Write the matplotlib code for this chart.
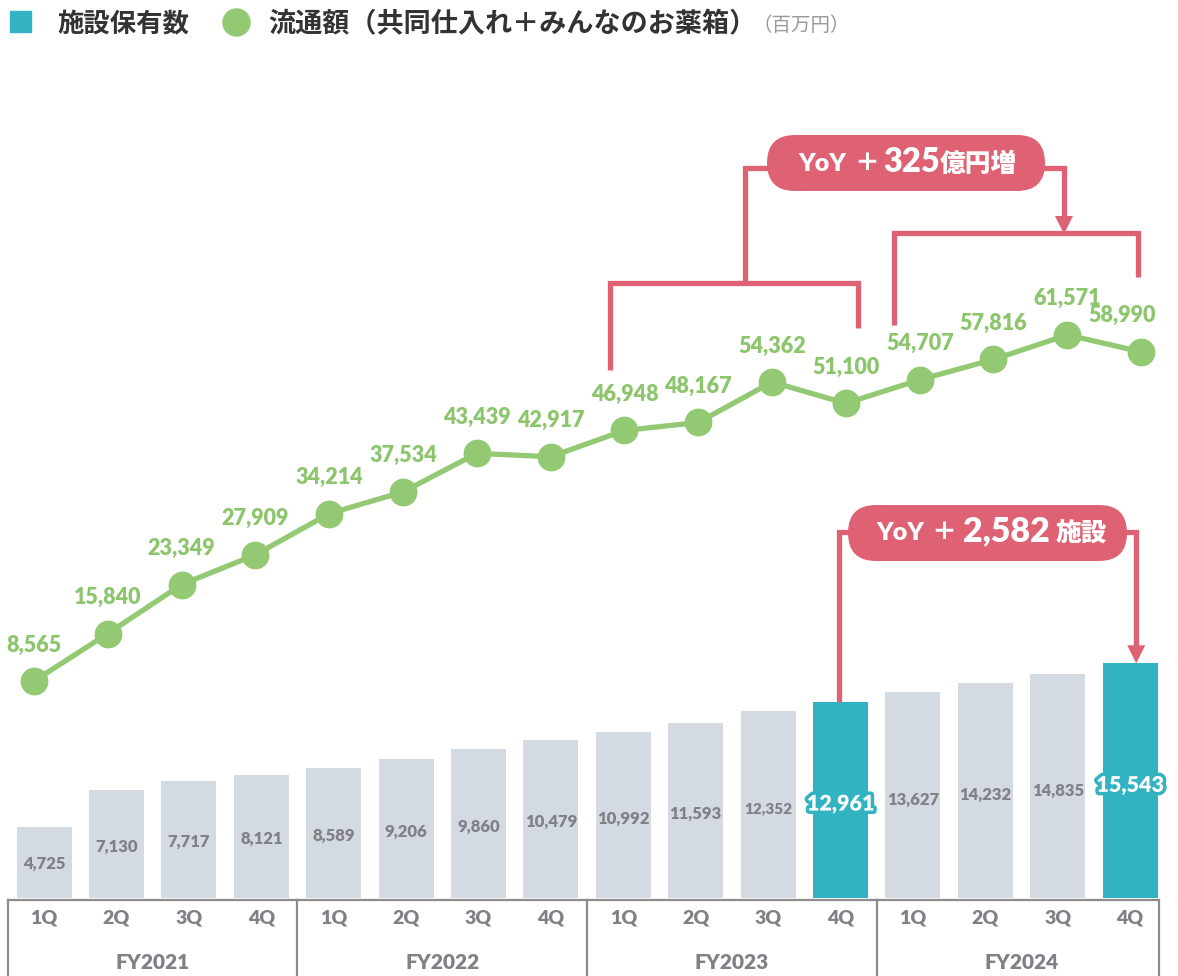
import matplotlib
matplotlib.use("Agg")
import matplotlib.pyplot as plt
import matplotlib.patheffects as pe
from matplotlib.patches import FancyBboxPatch, Rectangle, Polygon
import numpy as np

plt.rcParams['font.family'] = ['Lato', 'Noto Sans CJK JP', 'DejaVu Sans']

quarters = ['1Q', '2Q', '3Q', '4Q'] * 4
years = ['FY2021', 'FY2022', 'FY2023', 'FY2024']
facilities = [4725, 7130, 7717, 8121, 8589, 9206, 9860, 10479,
              10992, 11593, 12352, 12961, 13627, 14232, 14835, 15543]
sales = [8565, 15840, 23349, 27909, 34214, 37534, 43439, 42917,
         46948, 48167, 54362, 51100, 54707, 57816, 61571, 58990]
highlight = [11, 15]

GRAY_BAR = '#d3dae1'
TEAL = '#31b3c1'
GREEN = '#94c973'
GREEN_TXT = '#8cc56c'
PINK = '#de6273'
TXT_GRAY = '#808086'
AXIS = '#8c8c8c'
WT = 'heavy'

W, H = 1178, 976
fig = plt.figure(figsize=(W / 100, H / 100), dpi=100)
ax = fig.add_axes([0, 0, 1, 1])
ax.set_xlim(-0.608, 15.66)
ax.set_ylim(-5166, 59470)
ax.axis('off')
# the line series sits on its own, slightly wider x scale
ax2 = fig.add_axes([0, 0, 1, 1])
ax2.set_xlim(-0.461, 15.50)
ax2.set_ylim(-36600, 112864)
ax2.axis('off')
ax2.patch.set_alpha(0)

x = np.arange(len(facilities))
colors = [TEAL if i in highlight else GRAY_BAR for i in x]
ax.bar(x, facilities, width=0.76, color=colors, zorder=2)

for i, v in enumerate(facilities):
    if i in highlight:
        ax.text(i, v * 0.48, f'{v:,}', ha='center', va='center', fontsize=15.5,
                fontweight=WT, color='white', zorder=5,
                path_effects=[pe.withStroke(linewidth=5, foreground=TEAL)])
    else:
        ax.text(i, v * 0.48, f'{v:,}', ha='center', va='center',
                fontsize=11 if i == 10 else 12, fontweight=WT, color=TXT_GRAY, zorder=5)

# bottom category axis
ax.plot([-0.5, 15.4], [-150, -150], color=AXIS, lw=1.6, clip_on=False, zorder=3)
for b in [-0.5, 3.5, 7.5, 11.5, 15.4]:
    ax.plot([b, b], [-150, -5166], color=AXIS, lw=1.6, clip_on=False, zorder=3)
for i, q in enumerate(quarters):
    ax.text(i, -1325, q, ha='center', va='center', fontsize=14,
            fontweight=WT, color=TXT_GRAY)
for k, y in enumerate(years):
    ax.text(4 * k + 1.5, -4305, y, ha='center', va='center', fontsize=15,
            fontweight=WT, color=TXT_GRAY)

# line series
ax2.plot(x, sales, color=GREEN, lw=3.8, marker='o', markersize=19,
         markerfacecolor=GREEN, markeredgecolor=GREEN, zorder=4)
for i, v in enumerate(sales):
    dx = -14 if i == 15 else 0
    ax2.annotate(f'{v:,}', (i, v), xytext=(dx, 26), textcoords='offset points',
                 ha='center', va='center', fontsize=15.5, fontweight=WT,
                 color=GREEN_TXT, zorder=5)

# overlay in pixel coordinates for legend and callouts
ov = fig.add_axes([0, 0, 1, 1], zorder=10)
ov.set_xlim(0, W)
ov.set_ylim(H, 0)
ov.axis('off')
ov.patch.set_alpha(0)


def px(axis, xv, yv):
    dx, dy = axis.transData.transform((xv, yv))
    return dx, H - dy


# legend
ov.add_patch(Rectangle((10, 11), 21, 21, color=TEAL))
ov.text(57, 23, '施設保有数', ha='left', va='center', fontsize=19,
        fontweight='bold', color='#333333')
ov.plot([236], [22], 'o', markersize=19.5, color=GREEN)
ov.text(268, 23, '流通額（共同仕入れ＋みんなのお薬箱）', ha='left', va='center',
        fontsize=19.5, fontweight='bold', color='#333333')
ov.text(752, 25, '（百万円）', ha='left', va='center', fontsize=14, color='#999999')

LW = 3.8


def pline(xs, ys):
    ov.plot(xs, ys, color=PINK, lw=LW, solid_capstyle='butt', solid_joinstyle='miter')


def pill(x0, y0, w, h):
    ov.add_patch(FancyBboxPatch((x0, y0), w, h, boxstyle=f'round,pad=0,rounding_size={h / 2}',
                                fc=PINK, ec='none', zorder=3))


def arrow_down(xc, ytip):
    ov.add_patch(Polygon([(xc - 9, ytip - 18), (xc + 9, ytip - 18), (xc, ytip)],
                         closed=True, fc=PINK, ec='none'))


def wtext(xp, yp, s, size, ha='left'):
    ov.text(xp, yp, s, ha=ha, va='center', fontsize=size, fontweight=WT,
            color='white', zorder=4)


# upper callout (sales)
p8 = px(ax2, 8, sales[8])
p11 = px(ax2, 11, sales[11])
p12 = px(ax2, 12, sales[12])
p15 = px(ax2, 15, sales[15])
pill(767, 135, 278, 56)
pline([775, 745, 745], [168, 168, 283])
pline([p8[0] - 14, p8[0] - 14, p11[0] + 12, p11[0] + 12], [370, 283, 283, 328])
pline([1035, 1064, 1064], [168, 168, 218])
arrow_down(1064, 234)
pline([p12[0] - 26, p12[0] - 26, p15[0] - 3, p15[0] - 3], [325, 233, 233, 277])
wtext(822, 164, 'YoY', 18, 'center')
wtext(854, 164, '＋', 18)
wtext(912, 162, '325', 23.5, 'center')
wtext(940, 164, '億円増', 18.5)

# lower callout (facilities)
b11 = px(ax, 11, facilities[11])
b15 = px(ax, 15, facilities[15])
pill(848, 505, 279, 56)
pline([855, b11[0] - 2, b11[0] - 2], [532, 532, b11[1]])
pline([1120, b15[0] + 6, b15[0] + 6], [532, 532, b15[1] - 16])
arrow_down(b15[0] + 6, b15[1])
wtext(900, 533, 'YoY', 18, 'center')
wtext(931, 533, '＋', 18)
wtext(1006, 531, '2,582', 24.5, 'center')
wtext(1056, 533, '施設', 18.5)

fig.savefig('out.png', dpi=100)
